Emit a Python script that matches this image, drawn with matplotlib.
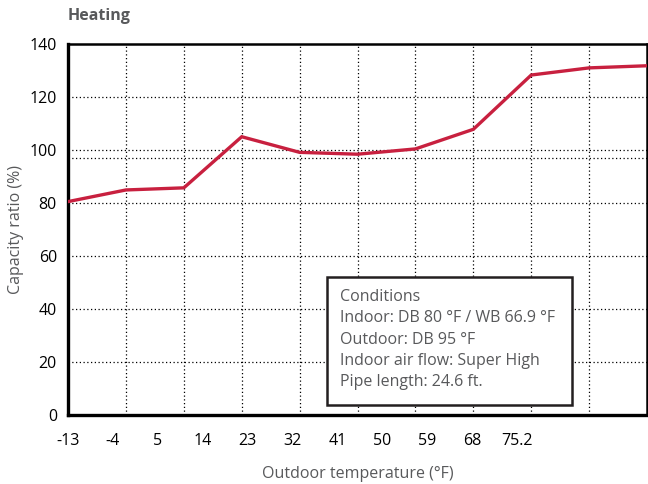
import matplotlib.pyplot as plt
from matplotlib.patches import Rectangle
import numpy as np

# capacity ratio, one value per grid column
capacity = [80.5, 84.9, 85.7, 105.0, 99.1, 98.4, 100.4, 107.8, 128.3, 131.0, 131.8]
temp_labels = ["-13", "-4", "5", "14", "23", "32", "41", "50", "59", "68", "75.2"]
y_ticks = [0, 20, 40, 60, 80, 100, 120, 140]
extra_grid = 97
conditions = ["Conditions",
              "Indoor: DB 80 °F / WB 66.9 °F",
              "Outdoor: DB 95 °F",
              "Indoor air flow: Super High",
              "Pipe length: 24.6 ft."]

plt.rcParams['font.family'] = ['Open Sans', 'DejaVu Sans']
gray = '#58595b'

fig = plt.figure(figsize=(6.48, 4.84), dpi=100)
ax = fig.add_axes([0.105, 0.143, 0.8935, 0.766])

x = np.arange(len(capacity))
ax.plot(x, capacity, color='#c8203f', lw=2.4, zorder=3, solid_joinstyle='miter')

ax.set_xlim(0, len(capacity) - 1)
ax.set_ylim(0, 140)

# labels sit on their own spacing, not on the grid columns
ax.set_xticks(np.arange(len(temp_labels)) * 0.775)
ax.set_xticklabels(temp_labels, fontsize=11.5, color='black')
ax.set_yticks(y_ticks)
ax.set_yticklabels([str(v) for v in y_ticks], fontsize=11.5, color='black')
ax.tick_params(axis='both', which='both', length=0)
ax.tick_params(axis='x', pad=13)
ax.tick_params(axis='y', pad=8)

for xv in x[1:-1]:
    ax.axvline(xv, color='black', ls=(0, (1, 2)), lw=0.9, zorder=1)
for yv in y_ticks[1:-1] + [extra_grid]:
    ax.axhline(yv, color='black', ls=(0, (1, 2)), lw=0.9, zorder=1)

for side in ['left', 'bottom']:
    ax.spines[side].set_linewidth(2.4)
for side in ['top', 'right']:
    ax.spines[side].set_linewidth(1.8)

ax.set_xlabel('Outdoor temperature (°F)', fontsize=11.5, color=gray, labelpad=12)
ax.set_ylabel('Capacity ratio (%)', fontsize=11.5, color=gray, labelpad=4)

fig.text(0.104, 0.966, 'Heating', fontsize=11.5, fontweight='bold', color=gray,
         va='center', ha='left')

# conditions box
ax.add_patch(Rectangle((0.447, 0.027), 0.423, 0.345, transform=ax.transAxes,
                       fc='white', ec='#231f20', lw=1.8, zorder=5))
ax.text(0.469, 0.34, "\n".join(conditions), transform=ax.transAxes,
        fontsize=11.5, color=gray, va='top', ha='left', linespacing=1.45,
        zorder=6)

fig.savefig('out.png', dpi=100)
